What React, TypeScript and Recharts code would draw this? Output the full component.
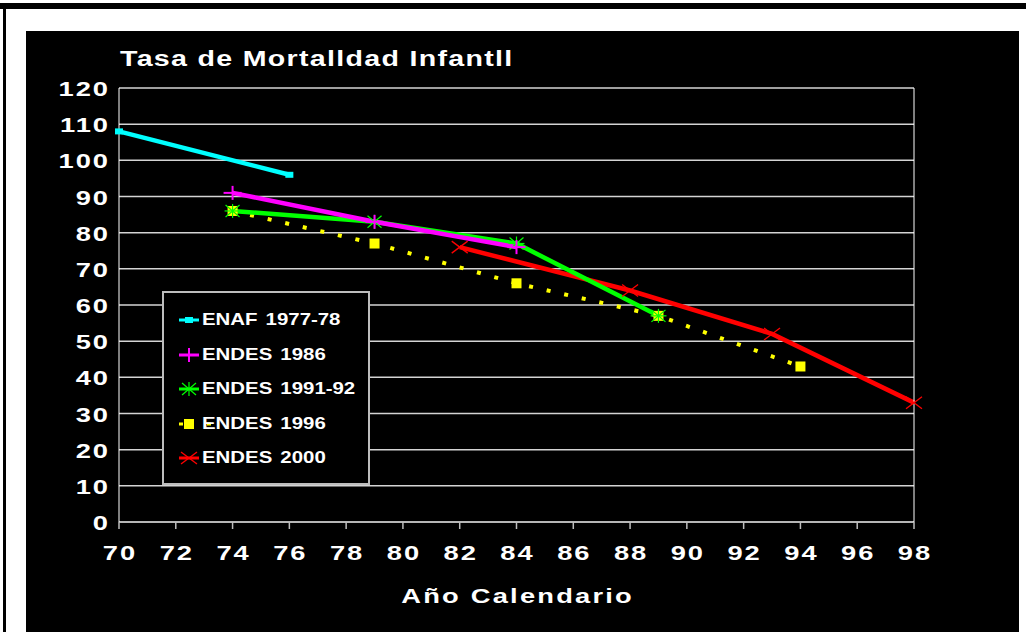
import React from 'react';
import { LineChart, Line, XAxis, YAxis, CartesianGrid, Legend } from 'recharts';

// survey series (x = year 19xx, y = deaths per 1000)
const enaf7778 = [
    { x: 70, y: 108 },
    { x: 76, y: 96 },
];
const endes1986 = [
    { x: 74, y: 91 },
    { x: 79, y: 83 },
    { x: 84, y: 76 },
];
const endes199192 = [
    { x: 74, y: 86 },
    { x: 79, y: 83 },
    { x: 84, y: 77 },
    { x: 89, y: 57 },
];
const endes1996 = [
    { x: 74, y: 86 },
    { x: 79, y: 77 },
    { x: 84, y: 66 },
    { x: 89, y: 57 },
    { x: 94, y: 43 },
];
const endes2000 = [
    { x: 82, y: 76 },
    { x: 88, y: 64 },
    { x: 93, y: 52 },
    { x: 98, y: 33 },
];

const xTicks = [70, 72, 74, 76, 78, 80, 82, 84, 86, 88, 90, 92, 94, 96, 98];
const yTicks = [0, 10, 20, 30, 40, 50, 60, 70, 80, 90, 100, 110, 120];

const FONT = '"Liberation Sans", Arial, Helvetica, sans-serif';
const STRETCH = 1.3; // the original lettering is a wide grotesque

type MarkerKind = 'bar' | 'plus' | 'star' | 'square' | 'cross';

interface SeriesDef {
    name: string,
    data: { x: number, y: number }[],
    color: string,
    marker: MarkerKind,
    dashed?: boolean,
}

const series: SeriesDef[] = [
    { name: 'ENAF 1977-78', data: enaf7778, color: '#00ffff', marker: 'bar' },
    { name: 'ENDES 1986', data: endes1986, color: '#ff00ff', marker: 'plus' },
    { name: 'ENDES 1991-92', data: endes199192, color: '#00ff00', marker: 'star' },
    { name: 'ENDES 1996', data: endes1996, color: '#ffff00', marker: 'square', dashed: true },
    { name: 'ENDES 2000', data: endes2000, color: '#ff0000', marker: 'cross' },
];

// draw order so overlaps look like the original
const drawOrder = ['ENDES 1996', 'ENDES 2000', 'ENDES 1991-92', 'ENDES 1986', 'ENAF 1977-78'];

const Marker = ({ kind, cx, cy, color }: { kind: MarkerKind, cx: number, cy: number, color: string }) => {
    switch (kind) {
        case 'bar':
            return <rect x={cx - 4} y={cy - 3} width={8} height={6} fill={color} />;
        case 'plus':
            return (
                <g stroke={color} strokeWidth={2}>
                    <line x1={cx - 9} x2={cx + 9} y1={cy} y2={cy} />
                    <line x1={cx} x2={cx} y1={cy - 7} y2={cy + 7} />
                </g>
            );
        case 'star':
            return (
                <g stroke={color} strokeWidth={1.2}>
                    <line x1={cx - 8} x2={cx + 8} y1={cy} y2={cy} />
                    <line x1={cx} x2={cx} y1={cy - 7} y2={cy + 7} />
                    <line x1={cx - 7} x2={cx + 7} y1={cy - 6} y2={cy + 6} />
                    <line x1={cx - 7} x2={cx + 7} y1={cy + 6} y2={cy - 6} />
                </g>
            );
        case 'square':
            return <rect x={cx - 5} y={cy - 5} width={10} height={10} fill={color} />;
        case 'cross':
            return (
                <g stroke={color} strokeWidth={1.3}>
                    <line x1={cx - 8} x2={cx + 8} y1={cy - 6} y2={cy + 6} />
                    <line x1={cx - 8} x2={cx + 8} y1={cy + 6} y2={cy - 6} />
                </g>
            );
    }
};

// stretched bold text, anchored like svg text
const WideText = ({ x, y, value, anchor, size, spacing }: {
    x: number, y: number, value: string | number, anchor: 'start' | 'middle' | 'end', size: number, spacing: number,
}) => {
    // letter-spacing leaves a trailing gap; shift to keep the glyphs on the anchor
    const dx = anchor === 'end' ? spacing : anchor === 'middle' ? spacing / 2 : 0;
    return (
        <text
            transform={`translate(${x},${y}) scale(${STRETCH},1)`}
            textAnchor={anchor}
            dx={dx}
            fill="#fff"
            fontFamily={FONT}
            fontWeight={700}
            fontSize={size}
            letterSpacing={spacing}
        >
            {value}
        </text>
    );
};

const LeftTick = (p: any) => <WideText x={p.x} y={p.y + 8} value={p.payload.value} anchor="end" size={21} spacing={1.5} />;
const RightTick = (p: any) => <WideText x={p.x} y={p.y + 8} value={p.payload.value} anchor="start" size={21} spacing={1.5} />;
const BottomTick = (p: any) => <WideText x={p.x} y={p.y + 17} value={p.payload.value} anchor="middle" size={21} spacing={1.5} />;

const AxisTitle = (p: any) => {
    const vb = p.viewBox;
    return <WideText x={vb.x + vb.width / 2} y={603} value="Año Calendario" anchor="middle" size={21} spacing={1.7} />;
};

const renderLegend = () => (
    <div style={{
        width: 208, height: 194, boxSizing: 'border-box', border: '2px solid #bdbdbd',
        background: '#000', paddingTop: 10,
    }}>
        {series.map(s => (
            <div key={s.name} style={{ display: 'flex', alignItems: 'center', height: 34.5 }}>
                <svg width={36} height={20} style={{ marginLeft: 12, flex: 'none' }}>
                    {s.dashed ? (
                        <line x1={3} x2={35} y1={10} y2={10} stroke={s.color} strokeWidth={3} strokeDasharray="4 24" />
                    ) : (
                        <line x1={3} x2={23} y1={10} y2={10} stroke={s.color} strokeWidth={3} />
                    )}
                    <Marker kind={s.marker} cx={13} cy={10} color={s.color} />
                </svg>
                <span style={{
                    display: 'inline-block', marginLeft: -10, color: '#fff', fontFamily: FONT, fontWeight: 700,
                    fontSize: 17, letterSpacing: 0, wordSpacing: 2, whiteSpace: 'nowrap',
                    transform: 'scaleX(1.2)', transformOrigin: 'left center',
                }}>{s.name}</span>
            </div>
        ))}
    </div>
);

export default function App() {
    const ordered = drawOrder.map(n => series.find(s => s.name === n)!);
    return (
        <div style={{ position: 'absolute', left: 0, top: 0, width: 1026, height: 632, background: '#fff', overflow: 'hidden' }}>
            <svg width={1026} height={632} style={{ position: 'absolute', left: 0, top: 0 }}>
                <rect x={0} y={3} width={1026} height={6} fill="#000" />
                <rect x={3} y={3} width={3} height={629} fill="#000" />
                <rect x={26} y={31} width={993} height={601} fill="#000" />
                <WideText x={120} y={66} value="Tasa de Mortalldad Infantll" anchor="start" size={22} spacing={1} />
            </svg>
            <div style={{ position: 'absolute', left: 0, top: 0 }}>
                <LineChart width={1026} height={632} margin={{ top: 88, right: 52, left: 59, bottom: 0 }}>
                    <CartesianGrid yAxisId="left" vertical={false} stroke="#d4d4d4" strokeWidth={1.5} />
                    <XAxis
                        type="number"
                        dataKey="x"
                        domain={[70, 98]}
                        ticks={xTicks}
                        height={110}
                        stroke="#bdbdbd"
                        strokeWidth={1.5}
                        tickSize={7}
                        tickMargin={14}
                        tick={BottomTick}
                        interval={0}
                        label={<AxisTitle />}
                    />
                    <YAxis
                        yAxisId="left"
                        orientation="left"
                        domain={[0, 120]}
                        ticks={yTicks}
                        width={60}
                        stroke="#fff"
                        tickLine={false}
                        tickSize={5}
                        tickMargin={6}
                        tick={LeftTick}
                        interval={0}
                    />
                    <YAxis
                        yAxisId="right"
                        orientation="right"
                        domain={[0, 120]}
                        ticks={yTicks}
                        width={60}
                        stroke="#fff"
                        tickLine={false}
                        tickSize={5}
                        tickMargin={6}
                        tick={RightTick}
                        interval={0}
                    />
                    {ordered.map(s => (
                        <Line
                            key={s.name}
                            yAxisId="left"
                            data={s.data}
                            dataKey="y"
                            name={s.name}
                            type="linear"
                            stroke={s.color}
                            strokeWidth={s.dashed ? 4 : 4.5}
                            strokeDasharray={s.dashed ? '4 14' : undefined}
                            isAnimationActive={false}
                            dot={(p: any) => (
                                <Marker key={`${s.name}-${p.index}`} kind={s.marker} cx={p.cx} cy={p.cy} color={s.color} />
                            )}
                            activeDot={false}
                        />
                    ))}
                    <Legend
                        layout="vertical"
                        align="center"
                        verticalAlign="middle"
                        content={renderLegend}
                        wrapperStyle={{ position: 'absolute', left: 162, top: 291, width: 208, height: 194 }}
                    />
                </LineChart>
            </div>
        </div>
    );
}
